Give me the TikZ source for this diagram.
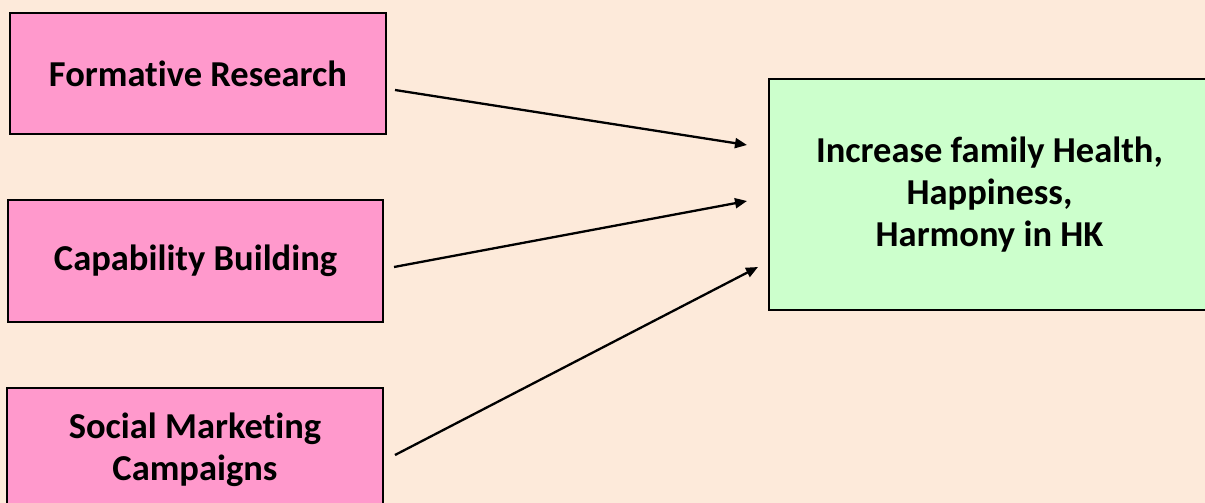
\documentclass[tikz,border=0pt]{standalone}
\usepackage{fontspec}
\setmainfont{Carlito}[Ligatures=NoCommon]
\usetikzlibrary{arrows.meta}
\definecolor{bgc}{HTML}{FDEADA}
\definecolor{pinkc}{HTML}{FF99CC}
\definecolor{greenc}{HTML}{CCFFCC}
\tikzset{
  srcbox/.style={draw=black, line width=1.3pt, fill=pinkc, inner sep=0pt, align=center,
    font=\fontsize{36.5}{42}\selectfont\bfseries},
  goalbox/.style={draw=black, line width=1.3pt, fill=greenc, inner sep=0pt, align=center,
    font=\fontsize{36.5}{42}\selectfont\bfseries},
  link/.style={line width=2.3pt, -{Triangle[length=12pt,width=10pt]}}
}
\begin{document}
\begin{tikzpicture}[x=1pt,y=-1pt]
\fill[bgc] (0,0) rectangle (1205,503);
\useasboundingbox (0,0) rectangle (1205,503);
\node[srcbox, minimum width=376pt, minimum height=121pt] (fr) at (198,73.5) {Formative Research};
\node[srcbox, minimum width=375pt, minimum height=122pt] (cb) at (195.5,261) {Capability Building};
\node[srcbox, minimum width=376pt, minimum height=124pt] (sm) at (195,450) {Social Marketing\\Campaigns};
\node[goalbox, minimum width=441pt, minimum height=231pt] (goal) at (989.5,194.5) {Increase family Health,\\Happiness,\\Harmony in HK};
\coordinate (s1) at (395,90);
\coordinate (e1) at (747,145);
\coordinate (s2) at (394,267);
\coordinate (e2) at (747,201);
\coordinate (s3) at (395,455);
\coordinate (e3) at (758,267);
\draw[link] (s1) -- (e1);
\draw[link] (s2) -- (e2);
\draw[link] (s3) -- (e3);
\end{tikzpicture}
\end{document}
